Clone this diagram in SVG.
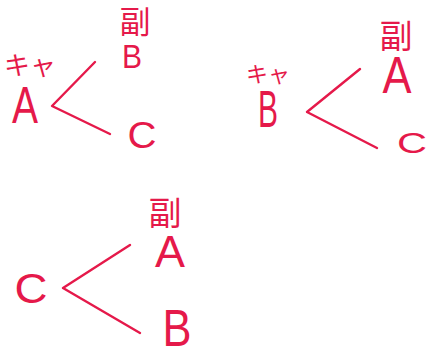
<svg xmlns="http://www.w3.org/2000/svg" width="429" height="353" viewBox="0 0 429 353">
<style>
.t{font-family:"Liberation Sans","Noto Sans CJK JP",sans-serif;fill:#e5194a;text-anchor:middle}
.j{font-family:"Noto Sans CJK JP",sans-serif;fill:#e5194a;text-anchor:middle}
.c{fill:none;stroke:#e5194a;stroke-width:2.4;stroke-linecap:round;stroke-linejoin:round}
</style>
<rect width="429" height="353" fill="#ffffff"/>
<g id="connectors">
<path class="c" d="M95,62 L52,106 L110,134"/>
<path class="c" d="M360,69 L307,112 L377,148"/>
<path class="c" d="M130,245 L63,288 L140,333"/>
</g>
<g id="d1-kya"><text class="j" x="30" y="75" font-size="26">キャ</text></g>
<g id="d1-A"><text class="t" x="25" y="123" font-size="52" textLength="26" lengthAdjust="spacingAndGlyphs">A</text></g>
<g id="d1-fuku"><text class="j" x="135" y="33" font-size="31">副</text></g>
<g id="d1-B"><text class="t" x="132" y="68" font-size="34" textLength="20" lengthAdjust="spacingAndGlyphs">B</text></g>
<g id="d1-C"><text class="t" x="142" y="148" font-size="36" textLength="29" lengthAdjust="spacingAndGlyphs">C</text></g>
<g id="d2-kya"><text class="j" x="268" y="82" font-size="22">キャ</text></g>
<g id="d2-B"><text class="t" x="268" y="127" font-size="52" textLength="20" lengthAdjust="spacingAndGlyphs">B</text></g>
<g id="d2-fuku"><text class="j" x="396" y="48" font-size="33">副</text></g>
<g id="d2-A"><text class="t" x="397" y="93" font-size="52" textLength="29" lengthAdjust="spacingAndGlyphs">A</text></g>
<g id="d2-C"><text class="t" x="412" y="153" font-size="30" textLength="30" lengthAdjust="spacingAndGlyphs">C</text></g>
<g id="d3-fuku"><text class="j" x="165" y="225" font-size="33">副</text></g>
<g id="d3-A"><text class="t" x="170" y="267" font-size="44" textLength="30" lengthAdjust="spacingAndGlyphs">A</text></g>
<g id="d3-C"><text class="t" x="31" y="303" font-size="42" textLength="33" lengthAdjust="spacingAndGlyphs">C</text></g>
<g id="d3-B"><text class="t" x="177" y="346" font-size="52" textLength="29" lengthAdjust="spacingAndGlyphs">B</text></g>
</svg>
